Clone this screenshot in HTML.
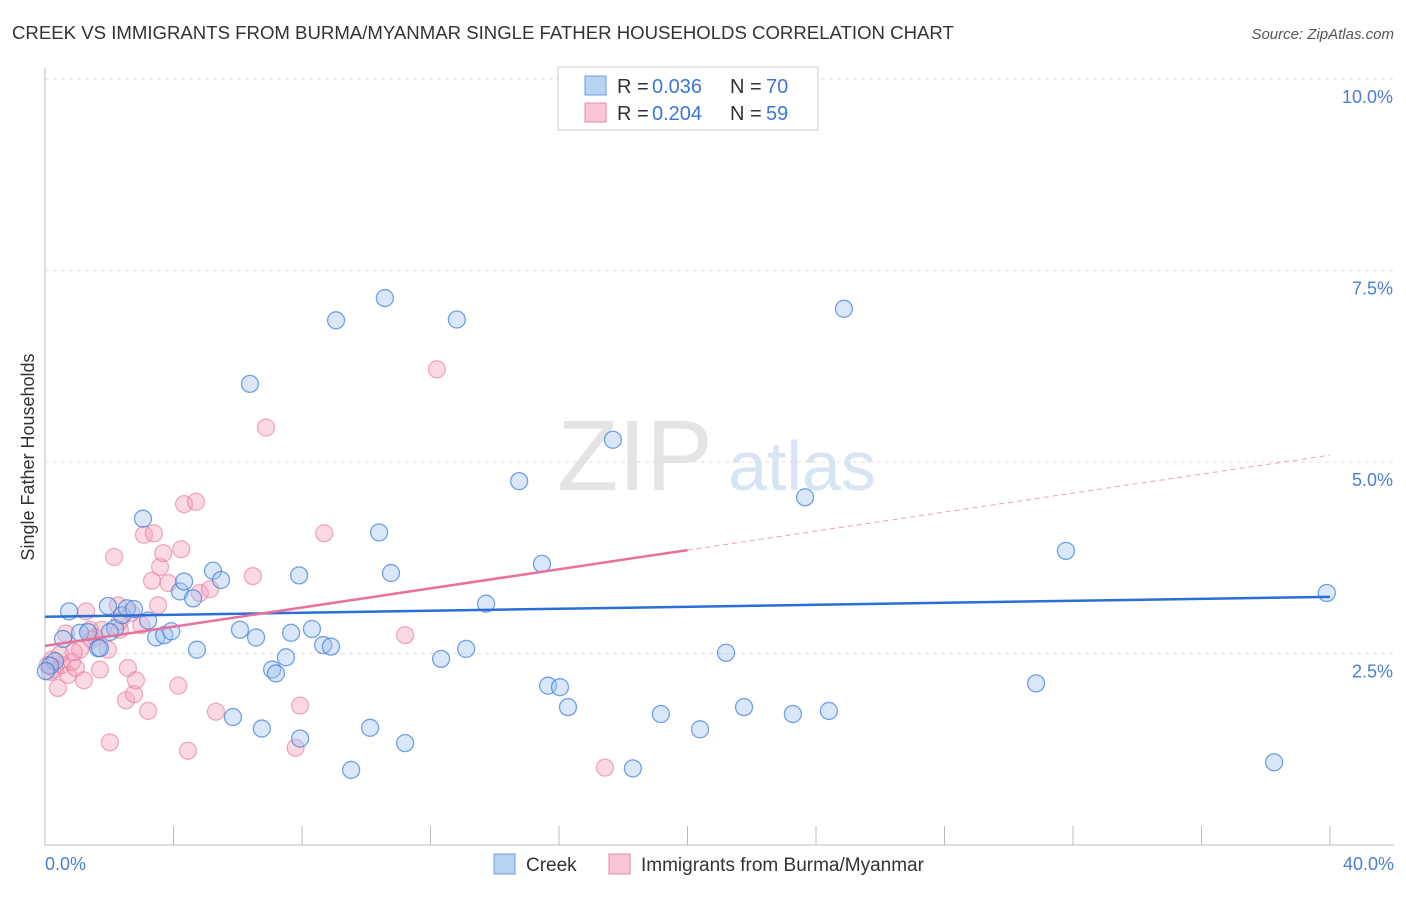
<!DOCTYPE html>
<html><head><meta charset="utf-8"><style>
body{margin:0;background:#fff;font-family:"Liberation Sans",sans-serif;}
svg text{font-family:"Liberation Sans",sans-serif;}
</style></head><body>
<svg id="c" width="1406" height="892">
<text x="12" y="39" font-size="18.6" fill="#333">CREEK VS IMMIGRANTS FROM BURMA/MYANMAR SINGLE FATHER HOUSEHOLDS CORRELATION CHART</text>
<text x="1394" y="39" font-size="15" fill="#555" text-anchor="end" font-style="italic">Source: ZipAtlas.com</text>
<text x="635" y="490" font-size="100" fill="#e4e4e4" text-anchor="middle" font-family="Liberation Serif">ZIP</text>
<text x="802" y="490" font-size="70" fill="#d6e4f4" text-anchor="middle">atlas</text>
<g id="grid"></g><g id="pts"></g><g id="lines"></g>
<text transform="translate(34,457) rotate(-90)" font-size="18" fill="#333" text-anchor="middle">Single Father Households</text>
<text x="45" y="870" font-size="18" fill="#4a7fd4">0.0%</text>
<text x="1394" y="870" font-size="18" fill="#4a7fd4" text-anchor="end">40.0%</text>
<g>
<rect x="558" y="67" width="260" height="63" fill="#fff" stroke="#ccc"/>
<rect x="585" y="76" width="21" height="19" fill="#b8d2f4" stroke="#6a9be0"/>
<rect x="585" y="103" width="21" height="19" fill="#f9c6d6" stroke="#e88aa8"/>
<text x="617" y="93" font-size="20" fill="#333">R =</text>
<text x="652" y="93" font-size="20" fill="#3a78d4">0.036</text>
<text x="730" y="93" font-size="20" fill="#333">N =</text>
<text x="766" y="93" font-size="20" fill="#3a78d4">70</text>
<text x="617" y="120" font-size="20" fill="#333">R =</text>
<text x="652" y="120" font-size="20" fill="#3a78d4">0.204</text>
<text x="730" y="120" font-size="20" fill="#333">N =</text>
<text x="766" y="120" font-size="20" fill="#3a78d4">59</text>
</g>
<g>
<rect x="494" y="854" width="21" height="20" fill="#b8d2f4" stroke="#6a9be0"/>
<text x="526" y="871" font-size="19" fill="#333">Creek</text>
<rect x="609" y="854" width="21" height="20" fill="#f9c6d6" stroke="#e88aa8"/>
<text x="641" y="871" font-size="19" fill="#333">Immigrants from Burma/Myanmar</text>
</g>
</svg>
<script>
const yTicks=[2.5,5.0,7.5,10.0];
const yTickLabels=["2.5%","5.0%","7.5%","10.0%"];
const xTicks=[0,4,8,12,16,20,24,28,32,36,40];
const creekX=[0.75,1.09,1.34,1.65,1.96,2.18,2.4,2.55,2.77,3.05,3.21,3.46,3.71,3.93,4.2,4.33,4.61,4.73,5.23,5.48,5.85,6.07,6.38,6.57,6.75,7.07,7.19,7.5,7.66,7.91,7.94,8.31,8.66,8.9,9.06,9.53,10.12,10.4,10.58,10.77,11.21,12.33,12.82,13.11,13.73,14.76,15.47,15.66,16.03,16.28,17.68,18.3,19.17,20.39,21.2,21.76,23.28,23.66,24.4,24.87,30.85,31.78,38.26,39.9,0.31,0.16,0.03,0.56,1.71,2.02];
const creekY=[3.05,2.77,2.78,2.57,3.12,2.83,3.0,3.09,3.08,4.26,2.93,2.71,2.74,2.79,3.31,3.44,3.22,2.55,3.58,3.46,1.67,2.81,6.02,2.71,1.52,2.29,2.24,2.45,2.77,3.52,1.39,2.82,2.61,2.59,6.85,0.98,1.53,4.08,7.14,3.55,1.33,2.43,6.86,2.56,3.15,4.75,3.67,2.08,2.06,1.8,5.29,1.0,1.71,1.51,2.51,1.8,1.71,4.54,1.75,7.0,2.11,3.84,1.08,3.29,2.4,2.34,2.27,2.69,2.57,2.78];
const burmaX=[0.22,0.31,0.16,0.09,0.4,0.53,0.72,0.84,0.96,1.21,1.09,1.28,1.4,1.56,1.77,2.02,2.15,2.27,2.33,2.52,2.58,2.77,2.83,3.0,3.21,3.33,3.08,3.39,3.52,3.58,3.68,3.84,4.15,4.24,4.33,4.45,4.7,4.82,5.14,5.32,6.47,6.88,7.8,7.94,8.69,11.21,12.2,17.43,0.65,1.71,1.96,1.46,0.47,2.33,2.68,0.9];
const burmaY=[2.42,2.29,2.26,2.35,2.05,2.35,2.22,2.39,2.31,2.15,2.55,3.05,2.81,2.71,2.81,1.34,3.76,3.13,2.81,1.89,2.31,1.97,2.15,2.87,1.75,3.45,4.05,4.07,3.13,3.63,3.81,3.42,2.08,3.86,4.45,1.23,4.48,3.29,3.34,1.74,3.51,5.45,1.27,1.82,4.07,2.74,6.21,1.01,2.76,2.29,2.55,2.68,2.49,2.92,3.03,2.52];
const creekTrend=[2.98,3.24];
const burmaTrend=[2.6,3.85,5.09];
const X=v=>45+v/40*1285, Y=v=>845-v*76.6;
const NS="http://www.w3.org/2000/svg";
function mk(t,a,p){const e=document.createElementNS(NS,t);for(const k in a)e.setAttribute(k,a[k]);p.appendChild(e);return e;}
const g=document.getElementById('grid'),pts=document.getElementById('pts'),ln=document.getElementById('lines');
mk('line',{x1:45,y1:68,x2:45,y2:845,stroke:'#bbb'},g);
mk('line',{x1:45,y1:845,x2:1394,y2:845,stroke:'#bbb'},g);
yTicks.forEach((v,i)=>{const l=mk('line',{x1:45,y1:Y(v),x2:1394,y2:Y(v),stroke:'#ddd','stroke-dasharray':'4,4'},g);


const t=mk('text',{x:1393,y:Y(v)+24,'font-size':18,fill:'#4a7fd4','text-anchor':'end'},g);t.textContent=yTickLabels[i];

});
xTicks.forEach(v=>{const l=mk('line',{x1:X(v),y1:826,x2:X(v),y2:845,stroke:'#bbb'},g);

});
burmaX.forEach((v,i)=>{const c=mk('circle',{cx:X(v),cy:Y(burmaY[i]),r:8.5,fill:'rgba(244,160,186,0.4)',stroke:'rgba(232,120,155,0.6)','stroke-width':1.3},pts);

});
creekX.forEach((v,i)=>{const c=mk('circle',{cx:X(v),cy:Y(creekY[i]),r:8.5,fill:'rgba(160,196,240,0.4)',stroke:'rgba(60,125,215,0.7)','stroke-width':1.3},pts);

});
let l1=mk('line',{x1:X(0),y1:Y(creekTrend[0]),x2:X(40),y2:Y(creekTrend[1]),stroke:'#2a6fd6','stroke-width':2.5},ln);


let l2=mk('line',{x1:X(0),y1:Y(burmaTrend[0]),x2:X(20),y2:Y(burmaTrend[1]),stroke:'#e8709a','stroke-width':2.5},ln);


let l3=mk('line',{x1:X(20),y1:Y(burmaTrend[1]),x2:X(40),y2:Y(burmaTrend[2]),stroke:'#e8a0b8','stroke-width':1,'stroke-dasharray':'5,4'},ln);


</script>
</body></html>
